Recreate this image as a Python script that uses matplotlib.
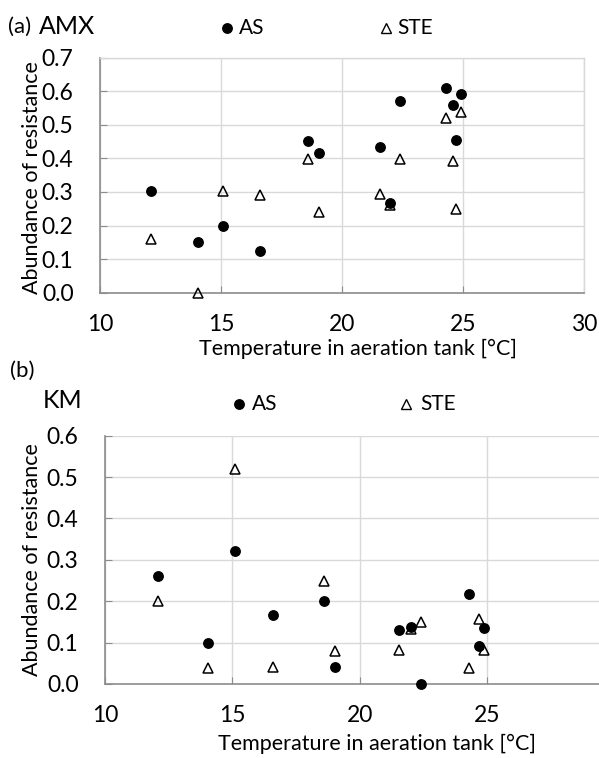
import matplotlib.pyplot as plt
from matplotlib.lines import Line2D

plt.rcParams['font.family'] = ['Lato', 'DejaVu Sans']

# panel (a) AMX
amx_temp_as = [12.1, 14.05, 15.1, 16.6, 18.6, 19.05, 21.55, 22.0, 22.4, 24.3, 24.6, 24.7, 24.9]
amx_as = [0.304, 0.150, 0.199, 0.125, 0.450, 0.416, 0.434, 0.266, 0.572, 0.609, 0.559, 0.454, 0.591]
amx_temp_ste = [12.1, 14.05, 15.1, 16.6, 18.6, 19.05, 21.55, 22.0, 22.4, 24.3, 24.6, 24.7, 24.9]
amx_ste = [0.160, 0.0, 0.303, 0.291, 0.399, 0.240, 0.293, 0.262, 0.399, 0.520, 0.391, 0.249, 0.539]

# panel (b) KM
km_temp_as = [12.1, 14.05, 15.1, 16.6, 18.6, 19.05, 21.55, 22.0, 22.4, 24.3, 24.7, 24.9]
km_as = [0.260, 0.099, 0.321, 0.166, 0.200, 0.041, 0.130, 0.137, 0.0, 0.217, 0.092, 0.135]
km_temp_ste = [12.1, 14.05, 15.1, 16.6, 18.6, 19.05, 21.55, 22.0, 22.4, 24.3, 24.7, 24.9]
km_ste = [0.200, 0.039, 0.520, 0.041, 0.250, 0.079, 0.082, 0.132, 0.149, 0.039, 0.158, 0.081]

W, H = 599, 758
GRID = '#d9d9d9'
AXIS = '#8c8c8c'


def fx(px):
    return px / W


def fy(py):
    return 1 - py / H


def style_axes(ax, yticks, xticks, full_box):
    ax.set_yticks(yticks)
    ax.set_yticklabels([f"{v:.1f}" for v in yticks])
    ax.set_xticks(xticks)
    ax.grid(True, color=GRID, linewidth=1.0)
    ax.set_axisbelow(True)
    for s in ['left', 'bottom']:
        ax.spines[s].set_color(AXIS)
        ax.spines[s].set_linewidth(1.2)
    for s in ['top', 'right']:
        if full_box:
            ax.spines[s].set_color(GRID)
            ax.spines[s].set_linewidth(1.0)
        else:
            ax.spines[s].set_visible(False)
    ax.tick_params(axis='y', direction='in', length=5, color=AXIS,
                   labelsize=16.5, pad=19)
    ax.tick_params(axis='x', direction='in', length=5, color=AXIS,
                   labelsize=16.5, pad=15)


def draw_points(ax, tx_as, y_as, tx_ste, y_ste):
    ax.plot(tx_as, y_as, 'o', color='black', markersize=6.8, clip_on=False, zorder=3)
    ax.plot(tx_ste, y_ste, '^', markerfacecolor='none', markeredgecolor='black',
            markeredgewidth=1.1, markersize=7.8, clip_on=False, zorder=4)


def legend(fig, y, x_circ, x_as, x_tri, x_ste):
    fig.add_artist(Line2D([fx(x_circ)], [fy(y)], marker='o', color='black',
                          markersize=6.8, transform=fig.transFigure))
    fig.text(fx(x_as), fy(y), "AS", fontsize=15, va='center')
    fig.add_artist(Line2D([fx(x_tri)], [fy(y)], marker='^', markerfacecolor='none',
                          markeredgecolor='black', markeredgewidth=1.0,
                          markersize=6.5, transform=fig.transFigure))
    fig.text(fx(x_ste), fy(y), "STE", fontsize=15, va='center')


fig = plt.figure(figsize=(W / 100, H / 100), dpi=100)

# (a)
ax1 = fig.add_axes([fx(100), fy(292.7), fx(584) - fx(100), fy(57.5) - fy(292.7)])
draw_points(ax1, amx_temp_as, amx_as, amx_temp_ste, amx_ste)
ax1.set_xlim(10, 30)
ax1.set_ylim(0, 0.7)
style_axes(ax1, [0.0, 0.1, 0.2, 0.3, 0.4, 0.5, 0.6, 0.7], [10, 15, 20, 25, 30], True)
ax1.set_ylabel("Abundance of resistance", fontsize=15.5)
ax1.yaxis.set_label_coords(-0.12, 0.49)
ax1.set_xlabel("Temperature in aeration tank [°C]", fontsize=15.5)
ax1.xaxis.set_label_coords(0.533, -0.198)

# (b)
ax2 = fig.add_axes([fx(105), fy(684), 1 - fx(105), fy(435.7) - fy(684)])
draw_points(ax2, km_temp_as, km_as, km_temp_ste, km_ste)
ax2.set_xlim(10, 29.4)
ax2.set_ylim(0, 0.6)
style_axes(ax2, [0.0, 0.1, 0.2, 0.3, 0.4, 0.5, 0.6], [10, 15, 20, 25], False)
ax2.set_ylabel("Abundance of resistance", fontsize=15.5)
ax2.yaxis.set_label_coords(-0.128, 0.5)
ax2.set_xlabel("Temperature in aeration tank [°C]", fontsize=15.5)
ax2.xaxis.set_label_coords(0.551, -0.2)

# panel titles
fig.text(fx(8), fy(27), "(a)", fontsize=16, va='center')
fig.text(fx(39), fy(26), "AMX", fontsize=18, va='center')
fig.text(fx(10), fy(371), "(b)", fontsize=16, va='center')
fig.text(fx(43), fy(401), "KM", fontsize=18, va='center')

legend(fig, 28, 227, 239, 386, 397)
legend(fig, 404, 239, 252, 406, 420)

fig.savefig("out.png", dpi=100, facecolor='white')
